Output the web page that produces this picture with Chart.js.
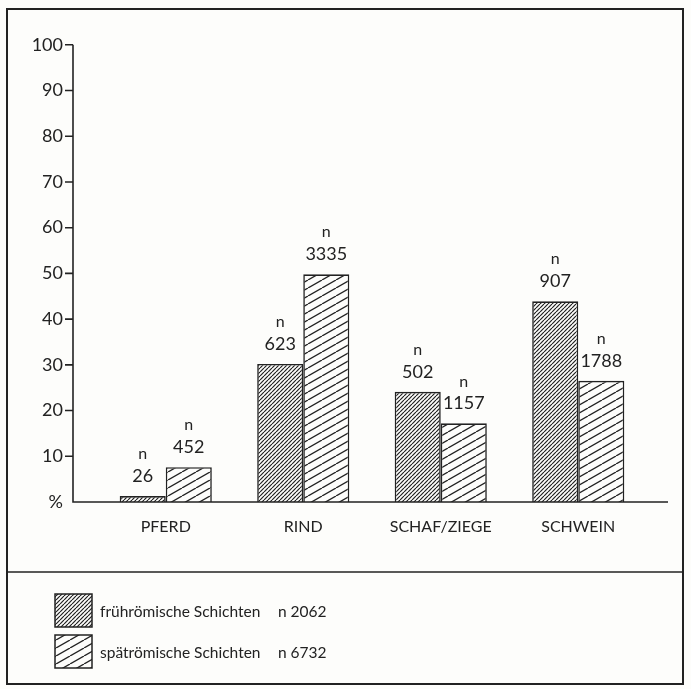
<!DOCTYPE html>
<html>
<head>
<meta charset="utf-8">
<script src="https://cdn.jsdelivr.net/npm/chart.js@4"></script>
<style>
  body { margin: 0; background: #fdfdfb; }
  #wrap { width: 691px; height: 689px; }
</style>
</head>
<body>
<div id="wrap"><canvas id="myChart" width="691" height="689"></canvas></div>
<script>
var categories = ['PFERD', 'RIND', 'SCHAF/ZIEGE', 'SCHWEIN'];
var seriesLabels = ['frühr\u00f6mische Schichten', 'sp\u00e4tr\u00f6mische Schichten'];
var seriesTotals = [2062, 6732];
var earlyPct = [1.3, 30.2, 24.1, 43.9];
var latePct = [7.6, 49.8, 17.2, 26.5];
var earlyN = [26, 623, 502, 907];
var lateN = [452, 3335, 1157, 1788];
var yTicks = [0, 10, 20, 30, 40, 50, 60, 70, 80, 90, 100];

var ink = '#222222';
var fontFam = 'Lato, "DejaVu Sans", sans-serif';

// diagonal hatch, w = horizontal spacing, h = vertical spacing
function hatch(w, h, lw) {
  var c = document.createElement('canvas');
  c.width = w; c.height = h;
  var g = c.getContext('2d');
  g.fillStyle = '#fdfdfb';
  g.fillRect(0, 0, w, h);
  g.strokeStyle = ink;
  g.lineWidth = lw;
  for (var k = -1; k <= 1; k++) {
    g.beginPath();
    g.moveTo(k * w, h);
    g.lineTo(k * w + w, 0);
    g.stroke();
  }
  return g.createPattern(c, 'repeat');
}

var ctx = document.getElementById('myChart').getContext('2d');
var densePattern = hatch(4, 4, 1.2);
var widePattern = hatch(14, 8, 1.3);
var patterns = [densePattern, widePattern];
var nLabels = [earlyN, lateN];

const framePlugin = {
  id: 'frame',
  beforeDraw(chart) {
    var c = chart.ctx;
    c.save();
    c.fillStyle = '#fdfdfb';
    c.fillRect(0, 0, chart.width, chart.height);
    c.strokeStyle = ink;
    c.lineWidth = 2;
    c.strokeRect(7, 9, 676, 675);
    c.lineWidth = 1.5;
    c.beginPath();
    c.moveTo(7, 572);
    c.lineTo(683, 572);
    c.stroke();
    c.restore();
  },
  afterDatasetsDraw(chart) {
    var c = chart.ctx;
    var y = chart.scales.y;
    var axX = 73;
    c.save();
    c.strokeStyle = ink;
    c.lineWidth = 1.6;
    c.beginPath();
    c.moveTo(axX, y.getPixelForValue(100));
    c.lineTo(axX, y.getPixelForValue(0));
    c.lineTo(668, y.getPixelForValue(0));
    yTicks.forEach(function (t) {
      if (t === 0) return;
      var py = y.getPixelForValue(t);
      c.moveTo(axX - 8, py);
      c.lineTo(axX, py);
    });
    c.stroke();

    // n labels above bars
    c.fillStyle = ink;
    c.textAlign = 'center';
    c.textBaseline = 'middle';
    chart.data.datasets.forEach(function (ds, di) {
      chart.getDatasetMeta(di).data.forEach(function (bar, i) {
        c.font = '16px ' + fontFam;
        c.fillText('n', bar.x, bar.y - 42);
        c.font = '18px ' + fontFam;
        c.fillText(String(nLabels[di][i]), bar.x, bar.y - 20);
      });
    });

    // legend
    c.textAlign = 'left';
    c.font = '15.5px ' + fontFam;
    var rows = [594, 635];
    seriesLabels.forEach(function (lab, i) {
      c.fillStyle = patterns[i];
      c.fillRect(55, rows[i], 37, 33);
      c.lineWidth = 1.5;
      c.strokeRect(55, rows[i], 37, 33);
      c.fillStyle = ink;
      c.fillText(lab, 100, rows[i] + 18);
      c.fillText('n ' + seriesTotals[i], 278, rows[i] + 18);
    });
    c.restore();
  }
};

const config = {
  type: 'bar',
  data: {
    labels: categories,
    datasets: [{
      label: seriesLabels[0],
      data: earlyPct,
      backgroundColor: densePattern,
      borderColor: ink,
      borderWidth: 1.6,
      barPercentage: 1.0,
      categoryPercentage: 0.67
    }, {
      label: seriesLabels[1],
      data: latePct,
      backgroundColor: widePattern,
      borderColor: ink,
      borderWidth: 1.6,
      barPercentage: 1.0,
      categoryPercentage: 0.67
    }]
  },
  options: {
    responsive: false,
    animation: false,
    layout: { padding: { top: 42, right: 44, left: 0, bottom: 0 } },
    plugins: {
      legend: { display: false },
      tooltip: { enabled: false }
    },
    scales: {
      x: {
        grid: { display: false, drawTicks: false },
        border: { display: false },
        ticks: { color: ink, font: { family: fontFam, size: 16 }, padding: 15 },
        afterFit: function (s) { s.height = 187; }
      },
      y: {
        min: 0,
        max: 100,
        afterBuildTicks: function (s) { s.ticks = yTicks.map(function (v) { return { value: v }; }); },
        grid: { display: false, drawTicks: false },
        border: { display: false },
        ticks: {
          color: ink,
          font: { family: fontFam, size: 18 },
          padding: 34,
          callback: function (v) { return v === 0 ? '%' : v; }
        },
        afterFit: function (s) { s.width = 97; }
      }
    }
  },
  plugins: [framePlugin]
};

var myChart = new Chart(ctx, config);
</script>
</body>
</html>
